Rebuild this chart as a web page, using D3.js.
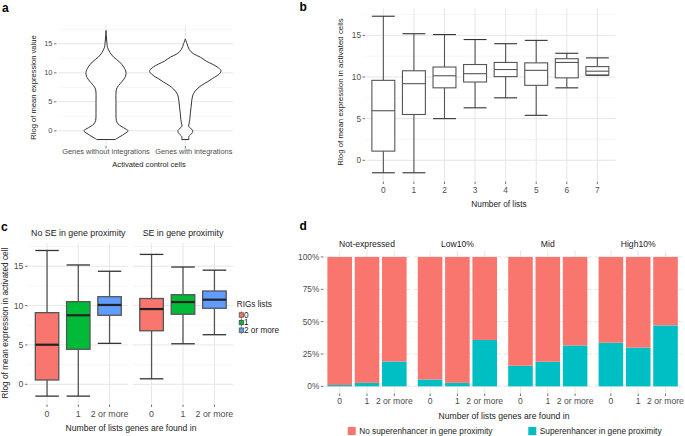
<!DOCTYPE html>
<html><head><meta charset="utf-8">
<script src="https://cdn.jsdelivr.net/npm/d3@7"></script>
<style>body{margin:0;background:#fff} text{font-family:"Liberation Sans",Arial,Helvetica,sans-serif}</style>
</head><body><svg id="chart" width="685" height="436"></svg>
<script>
// ---------- DATA ----------
// Panel a: violins (value, relative half-width density)
const violinGroups = ["Genes without integrations", "Genes with integrations"];
const violinWithoutY = [17.3,16,15,14.4,13.5,12.7,11.85,11,10.1,9.2,8.4,7.8,7.2,6.5,4.7,3,1.8,1.2,0.8,0.3,0,-0.45,-1,-1.4,-1.5];
const violinWithoutW = [0,0.014,0.028,0.042,0.112,0.216,0.384,0.496,0.56,0.532,0.434,0.35,0.294,0.28,0.28,0.28,0.289,0.336,0.42,0.56,0.62,0.532,0.392,0.28,0.26];
const violinWithY = [15.85,15,14,13.3,12.7,12,11.5,11,10.4,10,9.5,9,8.4,7.8,7.2,6.5,6,5,4,3,2,1.2,0.8,0.4,0.1,-0.3,-0.7,-1,-1.5];
const violinWithW = [0,0.048,0.112,0.224,0.42,0.588,0.756,0.896,1.0,0.98,0.888,0.756,0.608,0.448,0.328,0.238,0.204,0.176,0.16,0.14,0.126,0.104,0.092,0.154,0.204,0.196,0.14,0.098,0.1];
const violinYTicks = [0, 5, 10, 15];

// Panel b: boxplots by number of lists
const listCategories = ["0","1","2","3","4","5","6","7"];
const listWhiskerLow  = [-1.5,-1.5,5.0,6.3,7.5,5.4,8.7,10.2];
const listQ1          = [1.1,5.5,8.7,9.4,10.05,9.0,9.9,10.25];
const listMedian      = [5.95,9.2,10.15,10.4,10.9,10.8,11.75,10.7];
const listQ3          = [9.6,10.75,11.2,11.5,11.75,11.7,12.2,11.25];
const listWhiskerHigh = [17.3,15.2,15.1,14.5,14.0,14.4,12.85,12.3];

// Panel c: boxplots by SE proximity facet
const seFacets = ["No SE in gene proximity", "SE in gene proximity"];
const rigCategories = ["0","1","2 or more"];
const rigColors = ["#F8766D","#00BA38","#619CFF"];
const seWhiskerLow  = [[-1.5,-1.5,5.2],[0.7,5.15,6.3]];
const seQ1          = [[0.55,4.45,8.77],[6.8,8.9,9.66]];
const seMedian      = [[5.03,8.77,10.08],[9.56,10.45,10.75]];
const seQ3          = [[9.1,10.5,11.13],[10.9,11.38,11.85]];
const seWhiskerHigh = [[17.0,15.16,14.36],[16.5,14.9,14.5]];

// Panel d: stacked proportions
const exprFacets = ["Not-expressed","Low10%","Mid","High10%"];
const superFraction = [[0.01,0.027,0.192],[0.053,0.027,0.358],[0.159,0.19,0.316],[0.337,0.30,0.471]];
const stackKeys = ["No superenhancer in gene proximity","Superenhancer in gene proximity"];
const stackColors = ["#F8766D","#00BFC4"];
const pctTicks = [0,0.25,0.5,0.75,1];

// ---------- DRAWING ----------
const svg = d3.select("#chart");
const TICK = "#4d4d4d", GRID_MAJ = "#e6e6e6", GRID_MIN = "#f0f0f0";

function txt(g, x, y, s, size, anchor, extra) {
  const t = g.append("text").attr("x", x).attr("y", y).text(s)
    .attr("font-size", size).attr("text-anchor", anchor || "middle")
    .attr("dominant-baseline", "central").attr("fill", (extra && extra.fill) || "#1a1a1a");
  if (extra && extra.rotate) t.attr("transform", `rotate(-90,${x},${y})`);
  if (extra && extra.weight) t.attr("font-weight", extra.weight);
  return t;
}
function hgrid(g, y, x0, x1, major, minor) {
  minor.forEach(v => { if (v >= y.domain()[0] && v <= y.domain()[1]) g.append("line").attr("x1",x0).attr("x2",x1).attr("y1",y(v)).attr("y2",y(v)).attr("stroke",GRID_MIN).attr("stroke-width",0.6); });
  major.forEach(v => g.append("line").attr("x1",x0).attr("x2",x1).attr("y1",y(v)).attr("y2",y(v)).attr("stroke",GRID_MAJ).attr("stroke-width",1));
}
function vgrid(g, xs, y) {
  xs.forEach(x => g.append("line").attr("x1",x).attr("x2",x).attr("y1",y.range()[0]).attr("y2",y.range()[1]).attr("stroke",GRID_MAJ).attr("stroke-width",1));
}
function yAxis(g, y, ticks, xRight, fmt, size) {
  ticks.forEach(v => {
    g.append("line").attr("x1",xRight-2.5).attr("x2",xRight).attr("y1",y(v)).attr("y2",y(v)).attr("stroke",TICK).attr("stroke-width",0.8);
    txt(g, xRight-4, y(v), fmt(v), size, "end", {fill: TICK});
  });
}
function xTicks(g, xs, labels, yTop, labelY, size) {
  xs.forEach((x,i) => {
    g.append("line").attr("x1",x).attr("x2",x).attr("y1",yTop).attr("y2",yTop+2.5).attr("stroke",TICK).attr("stroke-width",0.8);
    txt(g, x, labelY, labels[i], size, "middle", {fill: TICK});
  });
}
function boxplot(g, cx, w, lo, q1, med, q3, hi, y, o) {
  const s = o.stroke, sw = o.sw;
  g.append("line").attr("x1",cx).attr("x2",cx).attr("y1",y(hi)).attr("y2",y(q3)).attr("stroke",s).attr("stroke-width",sw);
  g.append("line").attr("x1",cx).attr("x2",cx).attr("y1",y(q1)).attr("y2",y(lo)).attr("stroke",s).attr("stroke-width",sw);
  [hi, lo].forEach(v => g.append("line").attr("x1",cx-w/2).attr("x2",cx+w/2).attr("y1",y(v)).attr("y2",y(v)).attr("stroke",o.capStroke||s).attr("stroke-width",sw));
  g.append("rect").attr("x",cx-w/2).attr("width",w).attr("y",y(q3)).attr("height",y(q1)-y(q3))
    .attr("fill",o.fill).attr("stroke",s).attr("stroke-width",sw);
  g.append("line").attr("x1",cx-w/2).attr("x2",cx+w/2).attr("y1",y(med)).attr("y2",y(med)).attr("stroke",o.medStroke||s).attr("stroke-width",o.medWidth||sw);
}

// ===== Panel a =====
{
  const g = svg.append("g");
  const x = d3.scalePoint().domain(violinGroups).range([58.4, 232.9]).padding(0.6);
  const y = d3.scaleLinear().domain([-2.44, 18.24]).range([145, 25]);
  hgrid(g, y, 58.4, 232.9, violinYTicks, [2.5,7.5,12.5,17.5]);
  vgrid(g, violinGroups.map(d => x(d)), y);
  const maxHW = 0.45 * x.step();
  const sets = [[violinWithoutY, violinWithoutW],[violinWithY, violinWithW]];
  sets.forEach(([vy, vw], i) => {
    const cx = x(violinGroups[i]);
    const pts = vy.map((v,k) => ({v, w: vw[k]}));
    const area = d3.area().y(d => y(d.v)).x0(d => cx - d.w*maxHW).x1(d => cx + d.w*maxHW).curve(d3.curveCatmullRom.alpha(0.5));
    g.append("path").attr("d", area(pts)).attr("fill","#fff").attr("stroke","#333").attr("stroke-width",1);
  });
  yAxis(g, y, violinYTicks, 56.5, d => d, 7.5);
  violinGroups.forEach((d,i) => {
    const cx = x(d);
    g.append("line").attr("x1",cx).attr("x2",cx).attr("y1",146).attr("y2",148.5).attr("stroke",TICK).attr("stroke-width",0.8);
    txt(g, cx + (i === 1 ? 8.5 : 0), 151.7, d, 7.4, "middle", {fill: TICK});
  });
  txt(g, 149, 164, "Activated control cells", 7.6, "middle");
  txt(g, 33, 87.5, "Rlog of mean expression value", 7.6, "middle", {rotate:true});
  txt(g, 2, 8, "a", 12, "start", {weight:"bold", fill:"#000"});
}

// ===== Panel b =====
{
  const g = svg.append("g");
  const x = d3.scalePoint().domain(listCategories).range([365, 615.7]).padding(0.6);
  const y = d3.scaleLinear().domain([-2.44, 18.24]).range([180.6, 8.4]);
  hgrid(g, y, 365, 615.7, [0,5,10,15], [2.5,7.5,12.5,17.5]);
  vgrid(g, listCategories.map(d => x(d)), y);
  const w = 0.75 * x.step();
  listCategories.forEach((c,i) => boxplot(g, x(c), w, listWhiskerLow[i], listQ1[i], listMedian[i], listQ3[i], listWhiskerHigh[i], y,
    {stroke:"#555", sw:1.1, fill:"#fff", capStroke:"#333"}));
  yAxis(g, y, [0,5,10,15], 365, d => d, 8.3);
  xTicks(g, listCategories.map(d => x(d)), listCategories, 181.5, 190.3, 8.3);
  txt(g, 499, 204, "Number of lists", 8.3, "middle");
  txt(g, 340.7, 92, "Rlog of mean expression in activated cells", 7.9, "middle", {rotate:true});
  txt(g, 299.5, 6.5, "b", 12, "start", {weight:"bold", fill:"#000"});
}

// ===== Panel c =====
{
  const g = svg.append("g");
  const y = d3.scaleLinear().domain([-2.425, 17.925]).range([403.4, 243.2]);
  const ranges = [[28.3, 128.3],[132.7, 233.3]];
  seFacets.forEach((f, fi) => {
    const x = d3.scalePoint().domain(rigCategories).range(ranges[fi]).padding(0.6);
    hgrid(g, y, ranges[fi][0], ranges[fi][1], [0,5,10,15], [2.5,7.5,12.5,17.5]);
    vgrid(g, rigCategories.map(d => x(d)), y);
    const w = 0.75 * x.step();
    rigCategories.forEach((c,i) => boxplot(g, x(c), w, seWhiskerLow[fi][i], seQ1[fi][i], seMedian[fi][i], seQ3[fi][i], seWhiskerHigh[fi][i], y,
      {stroke:"#555", sw:1.3, fill:rigColors[i], capStroke:"#333", medStroke:"#222", medWidth:2.2}));
    xTicks(g, rigCategories.map(d => x(d)), rigCategories, 404.5, 414, 8.8);
    txt(g, (ranges[fi][0]+ranges[fi][1])/2, 233.3, f, 8.8, "middle");
  });
  yAxis(g, y, [0,5,10,15], 27.5, d => d, 8.8);
  txt(g, 131, 428, "Number of lists genes are found in", 8.6, "middle");
  txt(g, 5, 323, "Rlog of mean expression in activated cell", 8.3, "middle", {rotate:true});
  txt(g, 1, 226.7, "c", 12, "start", {weight:"bold", fill:"#000"});
  // legend
  txt(g, 236.8, 304, "RIGs lists", 8.2, "start");
  const ly = [315, 322.6, 330.2];
  rigCategories.forEach((c,i) => {
    g.append("line").attr("x1",241.3).attr("x2",241.3).attr("y1",ly[i]-3.6).attr("y2",ly[i]+3.6).attr("stroke","#444").attr("stroke-width",0.8);
    g.append("rect").attr("x",239.2).attr("y",ly[i]-2.2).attr("width",4.2).attr("height",4.4).attr("fill",rigColors[i]).attr("stroke","#444").attr("stroke-width",0.7);
    txt(g, 244, ly[i], c, 8.2, "start");
  });
}

// ===== Panel d =====
{
  const g = svg.append("g");
  const y = d3.scaleLinear().domain([-0.05, 1.05]).range([392.8, 250.5]);
  const panelW = 87.4, gap = 3.0, left0 = 323.3;
  exprFacets.forEach((f, fi) => {
    const r = [left0 + fi*(panelW+gap), left0 + fi*(panelW+gap) + panelW];
    const x = d3.scalePoint().domain(rigCategories).range(r).padding(0.6);
    hgrid(g, y, r[0], r[1], pctTicks, [0.125,0.375,0.625,0.875]);
    vgrid(g, rigCategories.map(d => x(d)), y);
    const bw = 0.9 * x.step();
    rigCategories.forEach((c,i) => {
      const se = superFraction[fi][i];
      const stack = d3.stack().keys([1,0]).value((d,k) => k === 1 ? d.se : 1 - d.se)([{se}]);
      stack.forEach(layer => {
        const seg = layer[0];
        g.append("rect").attr("x", x(c)-bw/2).attr("width", bw)
          .attr("y", y(seg[1])).attr("height", y(seg[0]) - y(seg[1]))
          .attr("fill", stackColors[layer.key]);
      });
    });
    xTicks(g, rigCategories.map(d => x(d)), rigCategories, 393.5, 401, 8.6);
    txt(g, (r[0]+r[1])/2, 244.3, f, 8.6, "middle");
  });
  yAxis(g, y, pctTicks, 323.3, d => Math.round(d*100) + "%", 8.3);
  txt(g, 504, 416, "Number of lists genes are found in", 8.6, "middle");
  txt(g, 299.5, 226, "d", 12, "start", {weight:"bold", fill:"#000"});
  // legend
  const lx = [347.7, 528.3];
  stackKeys.forEach((k,i) => {
    g.append("rect").attr("x", lx[i]).attr("y", 427).attr("width", 8).attr("height", 8).attr("fill", stackColors[i]);
    txt(g, lx[i] + 11.5, 431, k, 8.3, "start");
  });
}
</script></body></html>
